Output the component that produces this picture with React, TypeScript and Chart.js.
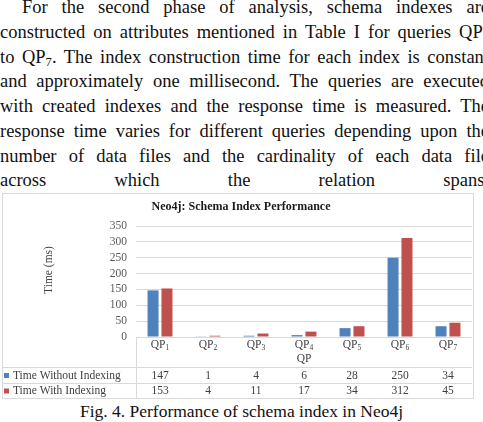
import React, { useEffect, useRef } from "react";
import { Chart, registerables } from "chart.js";

Chart.register(...registerables);

const categories = ["QP1", "QP2", "QP3", "QP4", "QP5", "QP6", "QP7"];
const withoutIndexing = [147, 1, 4, 6, 28, 250, 34];
const withIndexing = [153, 4, 11, 17, 34, 312, 45];
const seriesNames = ["Time Without Indexing", "Time With Indexing"];
const seriesColors = ["#4f81bd", "#c0504d"];
const yMin = 0;
const yMax = 350;
const yStep = 50;
const chartTitle = "Neo4j: Schema Index Performance";
const yTitle = "Time (ms)";
const xTitle = "QP";
const caption = "Fig. 4. Performance of schema index in Neo4j";

const SERIF = '"Liberation Serif", "Times New Roman", serif';

function splitLabel(s: string) {
  const m = s.match(/^(\D+)(\d+)$/);
  return m ? [m[1], m[2]] : [s, ""];
}

const tablePlugin = {
  id: "tablePlugin",
  beforeDraw(chart: any) {
    const { ctx, width, height } = chart;
    ctx.save();
    ctx.fillStyle = "#ffffff";
    ctx.fillRect(0, 0, width, height);
    ctx.restore();
  },
  afterDraw(chart: any) {
    const { ctx, chartArea: a, scales, width, height } = chart;
    const x = scales.x;
    ctx.save();
    // frame
    ctx.strokeStyle = "#d9d9d9";
    ctx.lineWidth = 1;
    ctx.strokeRect(0.5, 0.5, width - 1, height - 1);

    // title
    ctx.fillStyle = "#1a1a1a";
    ctx.textBaseline = "middle";
    ctx.textAlign = "center";
    ctx.font = `bold 12px ${SERIF}`;
    ctx.fillText(chartTitle, 239, 14);

    // category labels with subscripts
    ctx.fillStyle = "#404040";
    ctx.textAlign = "left";
    categories.forEach((c, i) => {
      const [main, sub] = splitLabel(c);
      const cx = x.getPixelForValue(i);
      ctx.font = `11.5px ${SERIF}`;
      const w1 = ctx.measureText(main).width;
      ctx.font = `7.5px ${SERIF}`;
      const w2 = ctx.measureText(sub).width;
      const sx = cx - (w1 + w2) / 2;
      ctx.font = `11.5px ${SERIF}`;
      ctx.fillText(main, sx, a.bottom + 8);
      ctx.font = `7.5px ${SERIF}`;
      ctx.fillText(sub, sx + w1, a.bottom + 11);
    });

    // x axis title
    ctx.font = `11.5px ${SERIF}`;
    ctx.textAlign = "center";
    ctx.fillText(xTitle, (a.left + a.right) / 2, a.bottom + 22);

    // table lines
    const r1 = a.bottom + 30.5;
    const r2 = a.bottom + 46.5;
    ctx.strokeStyle = "#d9d9d9";
    ctx.beginPath();
    ctx.moveTo(0, r1);
    ctx.lineTo(a.right, r1);
    ctx.moveTo(0, r2);
    ctx.lineTo(a.right, r2);
    ctx.moveTo(Math.round(a.left) + 0.5, a.bottom);
    ctx.lineTo(Math.round(a.left) + 0.5, height);
    ctx.stroke();

    // table rows
    const rows = [withoutIndexing, withIndexing];
    const rowY = [a.bottom + 38.5, a.bottom + 54];
    rows.forEach((vals, r) => {
      ctx.fillStyle = seriesColors[r];
      ctx.fillRect(2, rowY[r] - 2.5, 5, 5);
      ctx.fillStyle = "#404040";
      ctx.font = `11.5px ${SERIF}`;
      ctx.textAlign = "left";
      ctx.fillText(seriesNames[r], 11, rowY[r]);
      ctx.textAlign = "center";
      vals.forEach((v, i) => {
        ctx.fillText(String(v), x.getPixelForValue(i), rowY[r]);
      });
    });

    // y title
    ctx.save();
    ctx.translate(47, 77);
    ctx.rotate(-Math.PI / 2);
    ctx.textAlign = "center";
    ctx.font = `11.5px ${SERIF}`;
    ctx.fillStyle = "#404040";
    ctx.fillText(yTitle, 0, 0);
    ctx.restore();

    ctx.restore();
  },
};

function ChartBox() {
  const ref = useRef<HTMLCanvasElement | null>(null);
  useEffect(() => {
    if (!ref.current) return;
    const chart = new Chart(ref.current, {
      type: "bar",
      data: {
        labels: categories,
        datasets: [
          {
            label: seriesNames[0],
            data: withoutIndexing,
            backgroundColor: seriesColors[0],
            categoryPercentage: 0.58,
            barPercentage: 0.79,
          },
          {
            label: seriesNames[1],
            data: withIndexing,
            backgroundColor: seriesColors[1],
            categoryPercentage: 0.58,
            barPercentage: 0.79,
          },
        ],
      },
      options: {
        responsive: false,
        animation: false,
        devicePixelRatio: 1,
        layout: { padding: { left: 0, right: 2, top: 33, bottom: 0 } },
        plugins: {
          legend: { display: false },
          tooltip: { enabled: false },
          title: { display: false },
        },
        scales: {
          x: {
            ticks: { display: false },
            grid: { display: false },
            border: { display: false },
            afterFit: (s: any) => {
              s.height = 62;
            },
          },
          y: {
            min: yMin,
            max: yMax,
            ticks: {
              stepSize: yStep,
              autoSkip: false,
              color: "#595959",
              font: { family: SERIF, size: 11.5 },
              padding: 9,
            },
            grid: { color: "#d9d9d9", drawTicks: false },
            border: { display: false },
            afterFit: (s: any) => {
              s.width = 134;
            },
          },
        },
      },
      plugins: [tablePlugin],
    });
    return () => chart.destroy();
  }, []);
  return (
    <canvas
      ref={ref}
      width={472}
      height={206}
      style={{ position: "absolute", left: 2, top: 193, width: 472, height: 206 }}
    />
  );
}

const lineStyle: React.CSSProperties = {
  height: 24.74,
  lineHeight: "24.74px",
  textAlign: "justify",
  textAlignLast: "justify" as any,
  whiteSpace: "nowrap",
};

const sub = (t: string) => (
  <sub style={{ fontSize: "0.68em", lineHeight: 0, verticalAlign: "-0.25em" }}>{t}</sub>
);

export default function App() {
  return (
    <div
      style={{
        position: "absolute",
        left: 0,
        top: 0,
        width: 483,
        height: 422,
        overflow: "hidden",
        background: "#fff",
        fontFamily: SERIF,
        color: "#111",
      }}
    >
      <div style={{ position: "absolute", left: 0, top: -4.8, width: 489, fontSize: 18.5 }}>
        <div style={{ ...lineStyle, textIndent: 22 }}>For the second phase of analysis, schema indexes are</div>
        <div style={lineStyle}>constructed on attributes mentioned in Table I for queries QP{sub("1")}</div>
        <div style={lineStyle}>to QP{sub("7")}. The index construction time for each index is constant</div>
        <div style={lineStyle}>and approximately one millisecond. The queries are executed</div>
        <div style={lineStyle}>with created indexes and the response time is measured. The</div>
        <div style={lineStyle}>response time varies for different queries depending upon the</div>
        <div style={lineStyle}>number of data files and the cardinality of each data file</div>
        <div style={lineStyle}>across which the relation spans.</div>
      </div>
      <ChartBox />
      <div
        style={{
          position: "absolute",
          left: 0,
          top: 402,
          width: 483,
          textAlign: "center",
          fontSize: 17.5,
          lineHeight: "19px",
          color: "#111",
        }}
      >
        {caption}
      </div>
    </div>
  );
}
